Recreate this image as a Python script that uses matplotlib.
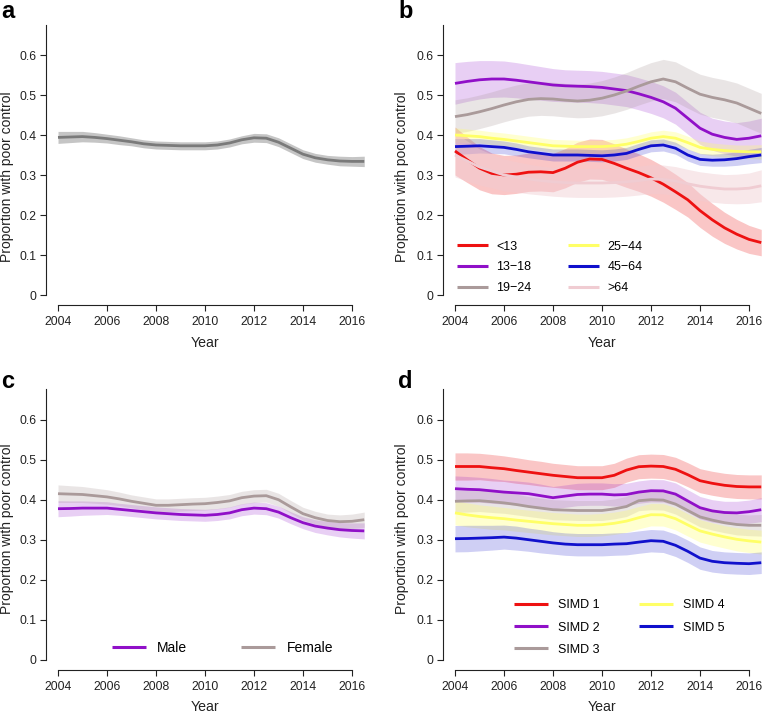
import numpy as np
import matplotlib
matplotlib.use("Agg")
import matplotlib.pyplot as plt

plt.rcParams['font.family'] = ['Liberation Sans', 'DejaVu Sans']

# ---------------- data ----------------
years = [2004 + 0.5 * i for i in range(26)]   # 2004 ... 2016.5
xticks = [2004, 2006, 2008, 2010, 2012, 2014, 2016]
yticks = [0, 0.1, 0.2, 0.3, 0.4, 0.5, 0.6]
ytick_labels = ["0", "0.1", "0.2", "0.3", "0.4", "0.5", "0.6"]

# panel a: overall
overall = [.394, .395, .396, .394, .391, .387, .383, .378, .375, .374, .373, .373, .373,
           .375, .380, .388, .393, .392, .382, .367, .352, .343, .338, .335, .334, .334]
overall_hw = [.015, .014, .013, .012, .011, .011, .010, .010, .010, .010, .010, .010, .010,
              .010, .010, .010, .011, .011, .011, .011, .011, .011, .011, .012, .012, .013]

# panel b: age groups
age_labels = ["<13", "13\u221218", "19\u221224", "25\u221244", "45\u221264", ">64"]
age_lt13 = [.360, .338, .317, .304, .300, .302, .307, .308, .306, .317, .332, .340, .339,
            .329, .317, .306, .293, .277, .258, .238, .211, .188, .168, .152, .139, .131]
age_lt13_hw = [.060, .057, .054, .051, .049, .048, .048, .048, .048, .049, .050, .050, .050,
               .049, .048, .047, .046, .045, .044, .043, .042, .041, .039, .037, .035, .033]
age_13_18 = [.529, .534, .538, .540, .540, .537, .533, .529, .525, .523, .522, .521, .519,
             .515, .511, .503, .494, .483, .467, .442, .417, .402, .394, .389, .392, .398]
age_13_18_hw = [.052, .050, .048, .046, .045, .044, .043, .042, .041, .040, .040, .040, .040,
                .040, .040, .040, .040, .040, .040, .040, .040, .040, .041, .042, .043, .044]
age_19_24 = [.446, .451, .458, .466, .475, .483, .489, .491, .490, .487, .485, .487, .492,
             .500, .510, .522, .533, .540, .533, .517, .502, .494, .488, .480, .467, .454]
age_19_24_hw = [.042, .042, .042, .042, .042, .042, .042, .042, .042, .042, .042, .043, .044,
                .045, .046, .047, .048, .049, .050, .050, .050, .050, .050, .050, .050, .050]
age_25_44 = [.400, .398, .396, .392, .389, .385, .381, .377, .373, .372, .371, .371, .371,
             .373, .377, .384, .392, .396, .392, .381, .369, .364, .361, .359, .358, .358]
age_25_44_hw = [.018, .017, .016, .016, .016, .016, .016, .016, .016, .016, .016, .016, .016,
                .016, .016, .016, .016, .016, .016, .016, .016, .016, .016, .016, .017, .018]
age_45_64 = [.371, .372, .373, .371, .369, .364, .358, .354, .350, .350, .350, .349, .348,
             .350, .354, .364, .373, .375, .367, .350, .339, .337, .338, .341, .346, .350]
age_45_64_hw = [.020, .019, .018, .017, .016, .016, .015, .015, .015, .015, .015, .015, .015,
                .015, .015, .015, .015, .015, .015, .015, .015, .015, .016, .017, .018, .019]
age_gt64 = [.350, .335, .320, .310, .300, .295, .290, .286, .283, .281, .280, .280, .280,
            .281, .283, .286, .290, .289, .285, .278, .272, .268, .265, .265, .267, .273]
age_gt64_hw = [.055, .050, .045, .042, .040, .038, .037, .036, .036, .036, .036, .036, .036,
               .036, .036, .036, .036, .036, .036, .036, .036, .036, .036, .037, .038, .040]

# panel c: sex
sex_labels = ["Male", "Female"]
male = [.3775, .378, .379, .379, .379, .376, .373, .370, .367, .365, .363, .362, .361,
        .363, .367, .375, .379, .3775, .369, .355, .3425, .334, .329, .325, .323, .322]
male_hw = [.020, .019, .018, .017, .016, .015, .015, .015, .015, .015, .015, .015, .015,
           .015, .015, .015, .015, .015, .015, .015, .015, .016, .017, .018, .019, .020]
female = [.415, .414, .413, .410, .407, .402, .396, .391, .386, .386, .3875, .389, .390,
          .393, .397, .405, .409, .410, .400, .382, .365, .355, .348, .345, .346, .350]
female_hw = [.022, .021, .020, .019, .018, .017, .016, .016, .016, .016, .016, .016, .016,
             .016, .016, .016, .016, .016, .016, .016, .016, .016, .016, .017, .018, .019]

# panel d: SIMD quintiles
simd_labels = ["SIMD 1", "SIMD 2", "SIMD 3", "SIMD 4", "SIMD 5"]
simd1 = [.483, .483, .483, .480, .4775, .473, .469, .465, .461, .458, .455, .455, .455,
         .461, .474, .4825, .484, .483, .476, .4625, .4475, .441, .436, .433, .432, .432]
simd2 = [.4275, .426, .425, .422, .419, .417, .415, .410, .405, .409, .413, .414, .414,
         .412, .413, .419, .4225, .422, .414, .397, .380, .372, .368, .367, .370, .375]
simd3 = [.396, .397, .3975, .395, .392, .388, .383, .379, .375, .374, .373, .373, .373,
         .377, .383, .3975, .400, .399, .389, .373, .357, .349, .3425, .338, .336, .336]
simd4 = [.367, .362, .358, .355, .3525, .349, .346, .343, .340, .338, .336, .336, .3375,
         .341, .3465, .355, .3625, .362, .3525, .337, .322, .314, .307, .301, .297, .294]
simd5 = [.3025, .303, .304, .305, .3065, .304, .300, .296, .292, .289, .2875, .2875, .2875,
         .289, .290, .294, .2975, .296, .286, .271, .254, .246, .2425, .241, .240, .2425]
simd1_hw = [.034, .034, .033, .033, .032, .032, .031, .031, .030, .030, .030, .030, .030,
            .030, .030, .030, .030, .030, .030, .030, .030, .030, .030, .030, .030, .030]
simd2_hw = [.032, .032, .031, .031, .030, .030, .029, .029, .028, .028, .028, .028, .028,
            .028, .028, .028, .028, .028, .028, .028, .028, .028, .028, .029, .029, .030]
simd3_hw = [.028, .028, .027, .027, .026, .026, .025, .025, .025, .025, .025, .025, .025,
            .025, .025, .025, .025, .025, .025, .025, .025, .025, .025, .026, .026, .027]
simd4_hw = [.030, .030, .029, .029, .028, .028, .028, .028, .028, .028, .028, .028, .028,
            .028, .028, .028, .028, .028, .028, .028, .028, .028, .028, .029, .029, .030]
simd5_hw = [.033, .033, .032, .031, .030, .030, .029, .029, .028, .028, .028, .028, .028,
            .028, .028, .028, .028, .028, .028, .028, .028, .027, .027, .027, .027, .027]

# ---------------- styles ----------------
C_RED = "#EE1111"
C_PURPLE = "#9010C8"
C_GREYBROWN = "#AA9A9A"
C_YELLOW = "#FFFF66"
C_BLUE = "#1010CC"
C_PINK = "#F0CCD2"
C_AXIS = "#222222"

W, H = 762, 714
fig = plt.figure(figsize=(W / 100, H / 100), dpi=100)


def add_axes_px(left, top, w, h):
    return fig.add_axes([left / W, 1 - (top + h) / H, w / W, h / H])


def style_axes(ax, ylab_xy, xlab_xy):
    ax.set_xlim(2003.5, 2017)
    ax.set_ylim(-0.026, 0.676)
    for s in ("top", "right"):
        ax.spines[s].set_visible(False)
    ax.spines["left"].set_bounds(0, 0.676)
    ax.spines["bottom"].set_bounds(2004, 2016)
    for s in ("left", "bottom"):
        ax.spines[s].set_linewidth(0.8)
        ax.spines[s].set_color(C_AXIS)
    ax.set_xticks(xticks)
    ax.set_xticklabels([str(t) for t in xticks])
    ax.set_yticks(yticks)
    ax.set_yticklabels(ytick_labels)
    ax.tick_params(axis="both", direction="out", length=4.3, width=0.8,
                   color=C_AXIS, labelsize=8.8, labelcolor=C_AXIS)
    ax.tick_params(axis="y", pad=2.2)
    ax.tick_params(axis="x", pad=3.6)
    ax.set_ylabel("Proportion with poor control", fontsize=10, color=C_AXIS)
    ax.set_xlabel("Year", fontsize=10.2, color=C_AXIS)
    ax.yaxis.set_label_coords(*ylab_xy)
    ax.yaxis.label.set_verticalalignment("center")
    ax.xaxis.set_label_coords(*xlab_xy)
    ax.xaxis.label.set_verticalalignment("center")


def band_line(ax, y, hw, color, band_alpha, label=None, lw=2.0, band_color=None):
    y = np.asarray(y)
    hw = np.asarray(hw)
    ax.fill_between(years, y - hw, y + hw, color=band_color or color,
                    alpha=band_alpha, linewidth=0)
    ax.plot(years, y, color=color, lw=lw, label=label, solid_capstyle="butt")


AX_W, AX_H = 330.75, 280.8
ax_a = add_axes_px(45.75, 24.6, AX_W, AX_H)
ax_b = add_axes_px(442.75, 24.6, AX_W, AX_H)
ax_c = add_axes_px(45.75, 389.3, AX_W, AX_H)
ax_d = add_axes_px(442.75, 389.3, AX_W, AX_H)

# panel a
band_line(ax_a, overall, overall_hw, "#7A7A7A", 0.5, lw=2.0, band_color="#8C8C8C")
style_axes(ax_a, (-0.1166, 0.457), (0.4815, -0.134))

# panel b
age_series = [
    (age_lt13, age_lt13_hw, C_RED, 0.24),
    (age_13_18, age_13_18_hw, C_PURPLE, 0.20),
    (age_19_24, age_19_24_hw, C_GREYBROWN, 0.25),
    (age_25_44, age_25_44_hw, C_YELLOW, 0.30),
    (age_45_64, age_45_64_hw, C_BLUE, 0.20),
    (age_gt64, age_gt64_hw, C_PINK, 0.45),
]
for (vals, hw, col, al), lab in zip(age_series, age_labels):
    band_line(ax_b, vals, hw, col, al, label=lab)
style_axes(ax_b, (-0.1217, 0.457), (0.4815, -0.134))
leg = ax_b.legend(ncol=2, frameon=False, fontsize=9, handlelength=2.5,
                  handletextpad=0.65, columnspacing=2.9, labelspacing=0.7,
                  borderpad=0, borderaxespad=0, loc="upper left",
                  bbox_to_anchor=((457 - 442.75) / AX_W, (305.4 - 240.5) / AX_H))
for ln in leg.get_lines():
    ln.set_linewidth(2.2)

# panel c
band_line(ax_c, male, male_hw, C_PURPLE, 0.20, label=sex_labels[0])
band_line(ax_c, female, female_hw, C_GREYBROWN, 0.25, label=sex_labels[1])
style_axes(ax_c, (-0.1166, 0.5036), (0.4815, -0.131))
leg = ax_c.legend(ncol=2, frameon=False, fontsize=10, handlelength=2.45,
                  handletextpad=0.8, columnspacing=3.9, borderpad=0, borderaxespad=0,
                  loc="upper left",
                  bbox_to_anchor=((112 - 45.75) / AX_W, (670.1 - 641) / AX_H))
for ln in leg.get_lines():
    ln.set_linewidth(2.2)

# panel d
simd_series = [
    (simd1, simd1_hw, C_RED, 0.24),
    (simd2, simd2_hw, C_PURPLE, 0.20),
    (simd3, simd3_hw, C_GREYBROWN, 0.25),
    (simd4, simd4_hw, C_YELLOW, 0.30),
    (simd5, simd5_hw, C_BLUE, 0.20),
]
for (vals, hw, col, al), lab in zip(simd_series, simd_labels):
    band_line(ax_d, vals, hw, col, al, label=lab)
style_axes(ax_d, (-0.1217, 0.5036), (0.4815, -0.131))
leg = ax_d.legend(ncol=2, frameon=False, fontsize=9, handlelength=2.7,
                  handletextpad=0.8, columnspacing=3.2, labelspacing=0.81,
                  borderpad=0, borderaxespad=0, loc="upper left",
                  bbox_to_anchor=((514 - 442.75) / AX_W, (670.1 - 599.5) / AX_H))
for ln in leg.get_lines():
    ln.set_linewidth(2.2)

# panel letters
for letter, xpx, ypx in [("a", 1, 18), ("b", 398, 18), ("c", 1, 388), ("d", 398, 388)]:
    fig.text(xpx / W, 1 - ypx / H, letter, fontsize=17, fontweight="bold",
             ha="left", va="baseline", color="black")

fig.savefig("out.png", dpi=100)
